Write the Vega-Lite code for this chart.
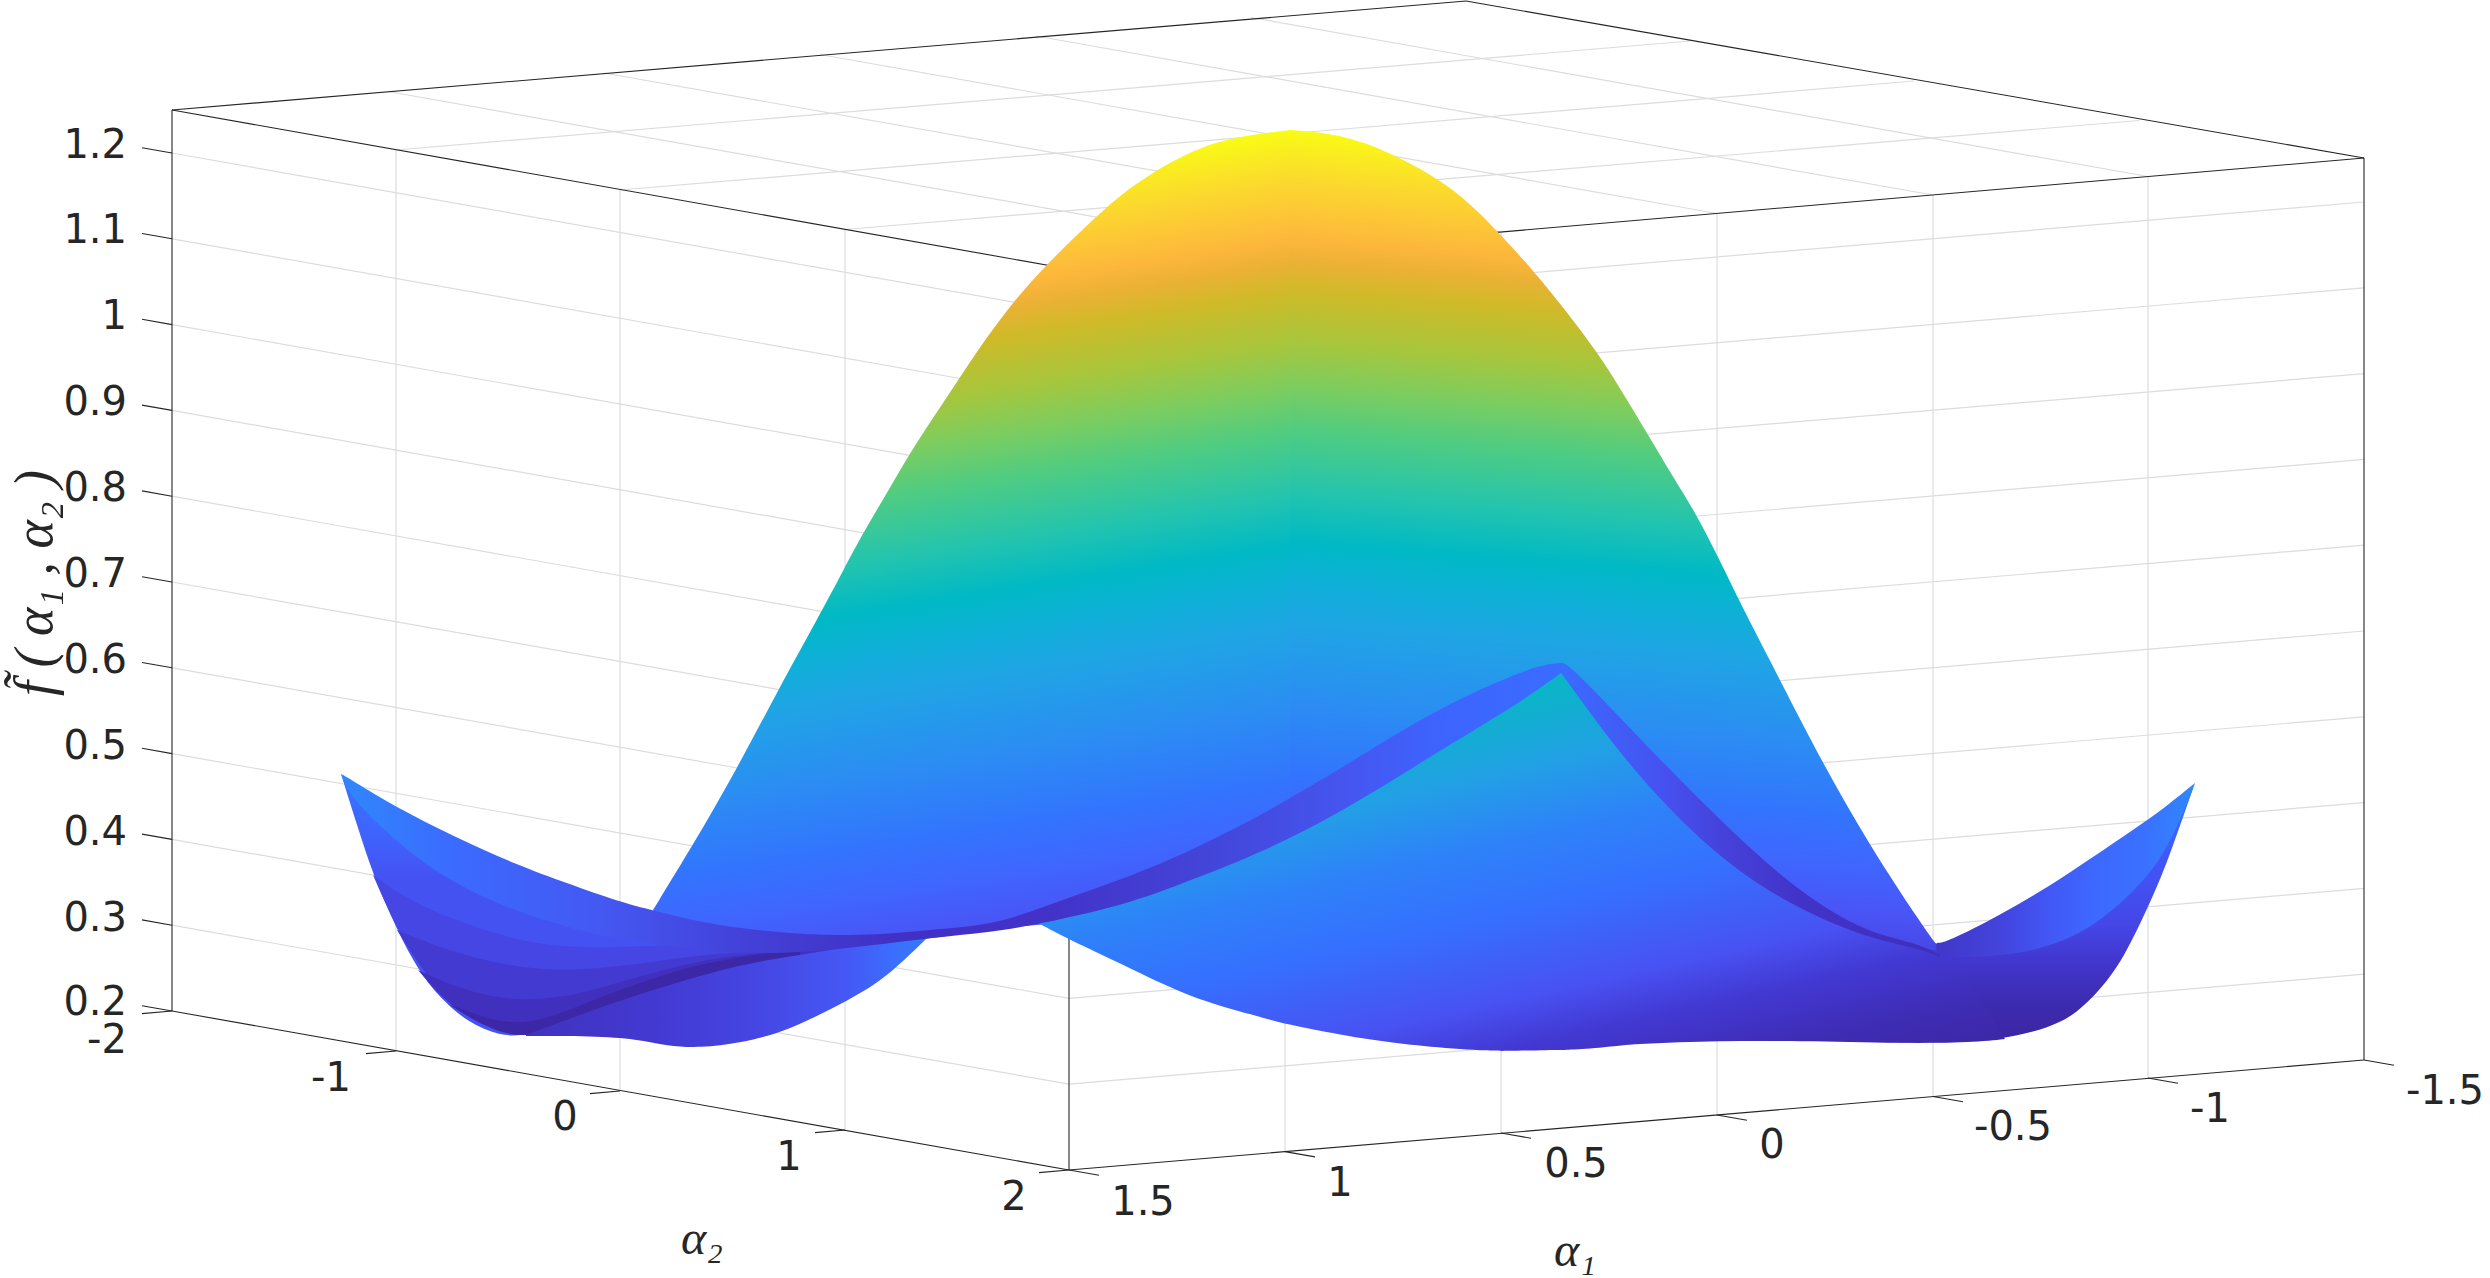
{"$schema":"https://vega.github.io/schema/vega-lite/v6.json","width":2490,"height":1278,"autosize":{"type":"fit","contains":"padding"},"padding":0,"background":"white","config":{"view":{"stroke":null}},
"datasets":{
"grid":[
{"x":172,"y":153,"xe":1069,"ye":312},{"x":1069,"y":312,"xe":2364,"ye":202},
{"x":172,"y":238.8,"xe":1069,"ye":397.8},{"x":1069,"y":397.8,"xe":2364,"ye":287.8},
{"x":172,"y":324.6,"xe":1069,"ye":483.6},{"x":1069,"y":483.6,"xe":2364,"ye":373.6},
{"x":172,"y":410.4,"xe":1069,"ye":569.4},{"x":1069,"y":569.4,"xe":2364,"ye":459.4},
{"x":172,"y":496.2,"xe":1069,"ye":655.2},{"x":1069,"y":655.2,"xe":2364,"ye":545.2},
{"x":172,"y":582,"xe":1069,"ye":741},{"x":1069,"y":741,"xe":2364,"ye":631},
{"x":172,"y":667.8,"xe":1069,"ye":826.8},{"x":1069,"y":826.8,"xe":2364,"ye":716.8},
{"x":172,"y":753.6,"xe":1069,"ye":912.6},{"x":1069,"y":912.6,"xe":2364,"ye":802.6},
{"x":172,"y":839.4,"xe":1069,"ye":998.4},{"x":1069,"y":998.4,"xe":2364,"ye":888.4},
{"x":172,"y":925.2,"xe":1069,"ye":1084.2},{"x":1069,"y":1084.2,"xe":2364,"ye":974.2},
{"x":396,"y":150,"xe":396,"ye":1051},{"x":620,"y":190,"xe":620,"ye":1091},{"x":845,"y":229.5,"xe":845,"ye":1130},
{"x":1285,"y":250.5,"xe":1285,"ye":1151.6},{"x":1501,"y":232,"xe":1501,"ye":1133},{"x":1717,"y":213.5,"xe":1717,"ye":1115},{"x":1933,"y":195,"xe":1933,"ye":1096.5},{"x":2148,"y":176.5,"xe":2148,"ye":1078},
{"x":396,"y":150,"xe":1690,"ye":41},{"x":620,"y":190,"xe":1914,"ye":81},{"x":845,"y":229.5,"xe":2139,"ye":120.5},
{"x":1285,"y":250.5,"xe":388,"ye":91.5},{"x":1501,"y":232,"xe":604,"ye":73},{"x":1717,"y":213.5,"xe":820,"ye":54.5},{"x":1933,"y":195,"xe":1036,"ye":36},{"x":2148,"y":176.5,"xe":1251,"ye":17.5}
],
"box":[
{"x":172,"y":110,"xe":1466,"ye":1},{"x":1466,"y":1,"xe":2364,"ye":158},{"x":172,"y":110,"xe":1069,"ye":269},{"x":1069,"y":269,"xe":2364,"ye":158},
{"x":172,"y":110,"xe":172,"ye":1011},{"x":1069,"y":269,"xe":1069,"ye":1170},{"x":2364,"y":158,"xe":2364,"ye":1060},
{"x":172,"y":1011,"xe":1069,"ye":1170},{"x":1069,"y":1170,"xe":2364,"ye":1060},
{"x":142,"y":147.7,"xe":172,"ye":153},{"x":142,"y":233.5,"xe":172,"ye":238.8},{"x":142,"y":319.3,"xe":172,"ye":324.6},{"x":142,"y":405.1,"xe":172,"ye":410.4},{"x":142,"y":490.9,"xe":172,"ye":496.2},{"x":142,"y":576.7,"xe":172,"ye":582},{"x":142,"y":662.5,"xe":172,"ye":667.8},{"x":142,"y":748.3,"xe":172,"ye":753.6},{"x":142,"y":834.1,"xe":172,"ye":839.4},{"x":142,"y":919.9,"xe":172,"ye":925.2},{"x":142,"y":1005.7,"xe":172,"ye":1011},
{"x":142,"y":1013.6,"xe":172,"ye":1011},{"x":366,"y":1053.6,"xe":396,"ye":1051},{"x":590,"y":1093.6,"xe":620,"ye":1091},{"x":815,"y":1132.6,"xe":845,"ye":1130},{"x":1039,"y":1172.6,"xe":1069,"ye":1170},
{"x":1069,"y":1170,"xe":1099,"ye":1175.3},{"x":1285,"y":1151.6,"xe":1315,"ye":1156.9},{"x":1501,"y":1133,"xe":1531,"ye":1138.3},{"x":1717,"y":1115,"xe":1747,"ye":1120.3},{"x":1933,"y":1096.5,"xe":1963,"ye":1101.8},{"x":2148,"y":1078,"xe":2178,"ye":1083.3},{"x":2364,"y":1060,"xe":2394,"ye":1065.3}
],
"humpLeft":[{"x":653,"y":910,"b":945},{"x":693,"y":845,"b":948},{"x":738,"y":767,"b":950},{"x":778,"y":690,"b":950},{"x":817,"y":620,"b":950},{"x":845,"y":567,"b":948},{"x":863,"y":533,"b":946},{"x":887,"y":493,"b":943},{"x":910,"y":453,"b":941},{"x":933,"y":418,"b":938},{"x":960,"y":377,"b":934},{"x":987,"y":337,"b":930},{"x":1013,"y":302,"b":927},{"x":1046,"y":265,"b":924},{"x":1087,"y":225,"b":922},{"x":1120,"y":195,"b":910},{"x":1153,"y":172,"b":900},{"x":1193,"y":150,"b":885},{"x":1233,"y":137,"b":868},{"x":1290,"y":130,"b":845}],
"humpRight":[{"x":1290,"y":130,"b":845},{"x":1330,"y":133,"b":825},{"x":1367,"y":143,"b":800},{"x":1400,"y":158,"b":780},{"x":1437,"y":178,"b":755},{"x":1470,"y":203,"b":735},{"x":1498,"y":232,"b":722},{"x":1533,"y":270,"b":700},{"x":1567,"y":312,"b":700},{"x":1597,"y":352,"b":730},{"x":1617,"y":383,"b":750},{"x":1647,"y":433,"b":790},{"x":1673,"y":477,"b":820},{"x":1698,"y":517,"b":850},{"x":1717,"y":555,"b":865},{"x":1738,"y":598,"b":880},{"x":1749,"y":620,"b":885},{"x":1780,"y":680,"b":905},{"x":1822,"y":762,"b":930},{"x":1868,"y":843,"b":945},{"x":1922,"y":925,"b":949},{"x":1936,"y":944,"b":950}],
"wingLeft":[{"x":341,"y":774,"b":774},{"x":357,"y":795,"b":825},{"x":373,"y":812,"b":875},{"x":397,"y":833,"b":930},{"x":418,"y":852,"b":970},{"x":440,"y":865,"b":998},{"x":467,"y":880,"b":1022},{"x":500,"y":893,"b":1036},{"x":526,"y":903,"b":1036},{"x":593,"y":925,"b":1020},{"x":632,"y":932,"b":1006},{"x":700,"y":940,"b":986},{"x":767,"y":943,"b":970},{"x":800,"y":943,"b":965},{"x":887,"y":935,"b":950},{"x":926,"y":934,"b":939}],
"wingLevels":[
{"lvl":"a","x":373,"y":875,"b":875},{"lvl":"a","x":397,"y":893,"b":930},{"lvl":"a","x":440,"y":915,"b":998},{"lvl":"a","x":500,"y":935,"b":1036},{"lvl":"a","x":540,"y":945,"b":1034},{"lvl":"a","x":593,"y":948,"b":1020},{"lvl":"a","x":633,"y":946,"b":1006},{"lvl":"a","x":700,"y":945,"b":986},{"lvl":"a","x":767,"y":948,"b":970},{"lvl":"a","x":800,"y":948,"b":965},{"lvl":"a","x":887,"y":935,"b":950},
{"lvl":"b","x":397,"y":930,"b":930},{"lvl":"b","x":440,"y":948,"b":998},{"lvl":"b","x":500,"y":965,"b":1036},{"lvl":"b","x":560,"y":972,"b":1030},{"lvl":"b","x":633,"y":965,"b":1006},{"lvl":"b","x":700,"y":955,"b":986},{"lvl":"b","x":767,"y":950,"b":970},{"lvl":"b","x":800,"y":948,"b":965},{"lvl":"b","x":887,"y":935,"b":950},
{"lvl":"c","x":418,"y":970,"b":970},{"lvl":"c","x":450,"y":985,"b":1007},{"lvl":"c","x":500,"y":1000,"b":1036},{"lvl":"c","x":560,"y":1000,"b":1030},{"lvl":"c","x":633,"y":978,"b":1006},{"lvl":"c","x":700,"y":960,"b":986},{"lvl":"c","x":767,"y":952,"b":970},{"lvl":"c","x":800,"y":949,"b":965},{"lvl":"c","x":887,"y":935,"b":950},
{"lvl":"d","x":448,"y":1004,"b":1004},{"lvl":"d","x":500,"y":1024,"b":1036},{"lvl":"d","x":540,"y":1022,"b":1036},{"lvl":"d","x":593,"y":1000,"b":1020},{"lvl":"d","x":633,"y":985,"b":1006},{"lvl":"d","x":700,"y":963,"b":986},{"lvl":"d","x":767,"y":953,"b":970},{"lvl":"d","x":800,"y":950,"b":965}
],
"lobe":[{"x":526,"y":1035,"b":1036},{"x":593,"y":1010,"b":1036},{"x":637,"y":995,"b":1039},{"x":667,"y":986,"b":1046},{"x":700,"y":976,"b":1048},{"x":740,"y":965,"b":1043},{"x":786,"y":957,"b":1032},{"x":853,"y":946,"b":998},{"x":887,"y":942,"b":977},{"x":927,"y":938,"b":938}],
"stripLeft":[{"x":341,"y":774,"b":774},{"x":350,"y":779,"b":797},{"x":397,"y":808,"b":843},{"x":453,"y":836,"b":884},{"x":517,"y":865,"b":912},{"x":567,"y":883,"b":927},{"x":620,"y":902,"b":940},{"x":652,"y":910,"b":944},{"x":700,"y":922,"b":950},{"x":737,"y":928,"b":953},{"x":787,"y":933,"b":953},{"x":820,"y":935,"b":951},{"x":877,"y":935,"b":945},{"x":927,"y":930,"b":938},{"x":993,"y":925,"b":932},{"x":1040,"y":908,"b":924},{"x":1120,"y":880,"b":906},{"x":1171,"y":860,"b":888},{"x":1257,"y":818,"b":855},{"x":1342,"y":768,"b":812},{"x":1428,"y":714,"b":758},{"x":1500,"y":680,"b":715},{"x":1543,"y":664,"b":686},{"x":1561,"y":663,"b":673}],
"wingRight":[{"x":1880,"y":935,"b":1042},{"x":1940,"y":945,"b":1043},{"x":2000,"y":947,"b":1040},{"x":2050,"y":937,"b":1028},{"x":2077,"y":925,"b":1013},{"x":2100,"y":912,"b":990},{"x":2123,"y":892,"b":960},{"x":2150,"y":863,"b":903},{"x":2167,"y":843,"b":863},{"x":2183,"y":808,"b":817},{"x":2195,"y":783,"b":783}],
"stripRight":[{"x":1937,"y":943,"b":955},{"x":1947,"y":942,"b":957},{"x":2000,"y":915,"b":957},{"x":2050,"y":886,"b":947},{"x":2093,"y":857,"b":927},{"x":2133,"y":830,"b":893},{"x":2167,"y":806,"b":853},{"x":2195,"y":783,"b":783}],
"center":[{"x":1040,"y":918,"b":924},{"x":1070,"y":908,"b":940},{"x":1120,"y":896,"b":963},{"x":1190,"y":870,"b":998},{"x":1257,"y":845,"b":1016},{"x":1285,"y":831,"b":1024},{"x":1342,"y":802,"b":1035},{"x":1380,"y":776,"b":1041},{"x":1428,"y":748,"b":1047},{"x":1494,"y":708,"b":1051},{"x":1504,"y":702,"b":1051},{"x":1553,"y":677,"b":1050},{"x":1560,"y":672,"b":1050},{"x":1560,"y":672,"b":1050},{"x":1560,"y":672,"b":1050},{"x":1563,"y":675,"b":1050},{"x":1600,"y":720,"b":1048},{"x":1633,"y":763,"b":1044},{"x":1680,"y":816,"b":1042},{"x":1720,"y":853,"b":1041},{"x":1760,"y":880,"b":1041},{"x":1800,"y":903,"b":1041},{"x":1850,"y":928,"b":1042},{"x":1900,"y":938,"b":1043},{"x":1940,"y":955,"b":1043},{"x":1967,"y":975,"b":1042},{"x":1990,"y":1015,"b":1041},{"x":2005,"y":1039,"b":1039}],
"bandRight":[{"x":1561,"y":663,"b":673},{"x":1567,"y":663,"b":681},{"x":1613,"y":710,"b":745},{"x":1667,"y":767,"b":808},{"x":1733,"y":833,"b":869},{"x":1800,"y":893,"b":910},{"x":1867,"y":933,"b":938},{"x":1917,"y":943,"b":948},{"x":1940,"y":955,"b":957}],
"numsRight":[{"t":"1.2","x":127,"y":146},{"t":"1.1","x":127,"y":231},{"t":"1","x":127,"y":317},{"t":"0.9","x":127,"y":403},{"t":"0.8","x":127,"y":489},{"t":"0.7","x":127,"y":575},{"t":"0.6","x":127,"y":661},{"t":"0.5","x":127,"y":747},{"t":"0.4","x":127,"y":833},{"t":"0.3","x":127,"y":919},{"t":"0.2","x":127,"y":1003},{"t":"-2","x":127,"y":1041}],
"numsCenter":[{"t":"-1","x":331,"y":1079},{"t":"0","x":565,"y":1118},{"t":"1","x":789,"y":1158},{"t":"2","x":1014,"y":1198},{"t":"1.5","x":1143,"y":1203},{"t":"1","x":1340,"y":1184},{"t":"0.5","x":1576,"y":1165},{"t":"0","x":1772,"y":1146},{"t":"-0.5","x":2013,"y":1128},{"t":"-1","x":2210,"y":1110},{"t":"-1.5","x":2445,"y":1092}],
"names":[{"t":"α₂","x":702,"y":1240},{"t":"α₁","x":1575,"y":1252}],
"zname":[{"t":"f̃ ( α₁ , α₂ )","x":36,"y":583}]
},
"encoding":{"x":{"field":"x","type":"quantitative","scale":{"domain":[0,2490],"nice":false,"zero":false},"axis":null},"y":{"field":"y","type":"quantitative","stack":null,"scale":{"domain":[1278,0],"nice":false,"zero":false},"axis":null}},
"layer":[
{"data":{"name":"grid"},"mark":{"type":"rule","stroke":"#dcdcdc","strokeWidth":1.2},"encoding":{"x2":{"field":"xe"},"y2":{"field":"ye"}}},
{"data":{"name":"box"},"mark":{"type":"rule","stroke":"#262626","strokeWidth":1.1},"encoding":{"x2":{"field":"xe"},"y2":{"field":"ye"}}},
{"data":{"name":"wingRight"},"mark":{"type":"area","interpolate":"basis","color":{"gradient":"linear","x1":0,"y1":0,"x2":0,"y2":1,"stops":[{"offset":0,"color":"#3577fc"},{"offset":0.3,"color":"#4056f8"},{"offset":0.55,"color":"#4546e6"},{"offset":0.7,"color":"#4135cc"},{"offset":0.85,"color":"#3d2bb0"},{"offset":1,"color":"#3b26a2"}]}},"encoding":{"y2":{"field":"b"}}},
{"data":{"name":"stripRight"},"mark":{"type":"area","interpolate":"basis","color":{"gradient":"linear","x1":0,"y1":0,"x2":1,"y2":0,"stops":[{"offset":0,"color":"#4137c8"},{"offset":0.25,"color":"#4344dd"},{"offset":0.44,"color":"#4258f5"},{"offset":0.6,"color":"#3d68ff"},{"offset":0.8,"color":"#3a70ff"},{"offset":1,"color":"#2f88fb"}]}},"encoding":{"y2":{"field":"b"}}},
{"data":{"name":"humpLeft"},"mark":{"type":"area","interpolate":"basis","color":{"gradient":"linear","x1":1,"y1":0,"x2":1.12,"y2":1,"stops":[{"offset":0,"color":"#f9fb15"},{"offset":0.055,"color":"#fbdc2c"},{"offset":0.104,"color":"#fdc437"},{"offset":0.134,"color":"#fcb63c"},{"offset":0.161,"color":"#eab135"},{"offset":0.195,"color":"#cfba28"},{"offset":0.256,"color":"#a8c63c"},{"offset":0.311,"color":"#7ccd5f"},{"offset":0.366,"color":"#4fcc82"},{"offset":0.439,"color":"#24c4ae"},{"offset":0.5,"color":"#00b9c5"},{"offset":0.549,"color":"#0fb0d8"},{"offset":0.598,"color":"#1fa5e4"},{"offset":0.695,"color":"#2b8df3"},{"offset":0.78,"color":"#3275fd"},{"offset":0.841,"color":"#3f66ff"},{"offset":0.899,"color":"#4a54f5"},{"offset":0.96,"color":"#4640dd"},{"offset":1,"color":"#4130c4"}]}},"encoding":{"y2":{"field":"b"}}},
{"data":{"name":"humpRight"},"mark":{"type":"area","interpolate":"basis","color":{"gradient":"linear","x1":0,"y1":0,"x2":-0.06,"y2":1,"stops":[{"offset":0,"color":"#f9fb15"},{"offset":0.055,"color":"#fbdc2c"},{"offset":0.104,"color":"#fdc437"},{"offset":0.134,"color":"#fcb63c"},{"offset":0.161,"color":"#eab135"},{"offset":0.195,"color":"#cfba28"},{"offset":0.256,"color":"#a8c63c"},{"offset":0.311,"color":"#7ccd5f"},{"offset":0.366,"color":"#4fcc82"},{"offset":0.439,"color":"#24c4ae"},{"offset":0.5,"color":"#00b9c5"},{"offset":0.549,"color":"#0fb0d8"},{"offset":0.598,"color":"#1fa5e4"},{"offset":0.695,"color":"#2b8df3"},{"offset":0.78,"color":"#3275fd"},{"offset":0.841,"color":"#3f66ff"},{"offset":0.899,"color":"#4a54f5"},{"offset":0.96,"color":"#4640dd"},{"offset":1,"color":"#4130c4"}]}},"encoding":{"y2":{"field":"b"}}},
{"data":{"name":"wingLeft"},"mark":{"type":"area","interpolate":"basis","color":{"gradient":"linear","x1":0,"y1":0,"x2":0,"y2":1,"stops":[{"offset":0,"color":"#3577fc"},{"offset":0.2,"color":"#3e66ff"},{"offset":0.4,"color":"#4552f2"},{"offset":1,"color":"#4552f2"}]}},"encoding":{"y2":{"field":"b"}}},
{"data":{"name":"wingLevels"},"mark":{"type":"area","interpolate":"basis"},"encoding":{"y2":{"field":"b"},"color":{"field":"lvl","type":"nominal","legend":null,"scale":{"domain":["a","b","c","d"],"range":["#4546e3","#433ad2","#4030bd","#3c28a6"]}}}},
{"data":{"name":"lobe"},"mark":{"type":"area","interpolate":"basis","color":{"gradient":"linear","x1":0,"y1":0,"x2":1,"y2":0,"stops":[{"offset":0,"color":"#4033c0"},{"offset":0.3,"color":"#4338d0"},{"offset":0.56,"color":"#4545e2"},{"offset":0.8,"color":"#4558f5"},{"offset":0.93,"color":"#3a70ff"},{"offset":1,"color":"#3378ff"}]}},"encoding":{"y2":{"field":"b"}}},
{"data":{"name":"center"},"mark":{"type":"area","interpolate":"basis","color":{"gradient":"linear","x1":0,"y1":0,"x2":0.669,"y2":1.187,"stops":[{"offset":0,"color":"#0bb8c4"},{"offset":0.224,"color":"#0bb4c8"},{"offset":0.343,"color":"#22a0e5"},{"offset":0.46,"color":"#2e82f9"},{"offset":0.58,"color":"#3570fe"},{"offset":0.728,"color":"#4852f2"},{"offset":0.812,"color":"#4238d2"},{"offset":0.908,"color":"#3e2cb4"},{"offset":1,"color":"#3b27a4"}]}},"encoding":{"y2":{"field":"b"}}},
{"data":{"name":"stripLeft"},"mark":{"type":"area","interpolate":"basis","color":{"gradient":"linear","x1":0,"y1":0,"x2":1,"y2":0,"stops":[{"offset":0,"color":"#2f88fb"},{"offset":0.089,"color":"#3b6bff"},{"offset":0.212,"color":"#4458f2"},{"offset":0.335,"color":"#4340d8"},{"offset":0.458,"color":"#4030c4"},{"offset":0.581,"color":"#4332c8"},{"offset":0.704,"color":"#4344d8"},{"offset":0.819,"color":"#4555ee"},{"offset":0.909,"color":"#3d65ff"},{"offset":1,"color":"#3a6cff"}]}},"encoding":{"y2":{"field":"b"}}},
{"data":{"name":"bandRight"},"mark":{"type":"area","interpolate":"basis","color":{"gradient":"linear","x1":0,"y1":0,"x2":1,"y2":0,"stops":[{"offset":0,"color":"#3a6cff"},{"offset":0.28,"color":"#4650ef"},{"offset":0.45,"color":"#4540d8"},{"offset":0.63,"color":"#4233c8"},{"offset":0.89,"color":"#4030c0"},{"offset":1,"color":"#3f2fb8"}]}},"encoding":{"y2":{"field":"b"}}},
{"data":{"name":"numsRight"},"mark":{"type":"text","align":"right","baseline":"middle","font":"DejaVu Sans","fontSize":40,"color":"#262626"},"encoding":{"text":{"field":"t"}}},
{"data":{"name":"numsCenter"},"mark":{"type":"text","align":"center","baseline":"middle","font":"DejaVu Sans","fontSize":40,"color":"#262626"},"encoding":{"text":{"field":"t"}}},
{"data":{"name":"names"},"mark":{"type":"text","align":"center","baseline":"middle","font":"Liberation Serif","fontStyle":"italic","fontSize":48,"color":"#262626"},"encoding":{"text":{"field":"t"}}},
{"data":{"name":"zname"},"mark":{"type":"text","align":"center","baseline":"middle","angle":270,"font":"Liberation Serif","fontStyle":"italic","fontSize":54,"color":"#262626"},"encoding":{"text":{"field":"t"}}}
]}
